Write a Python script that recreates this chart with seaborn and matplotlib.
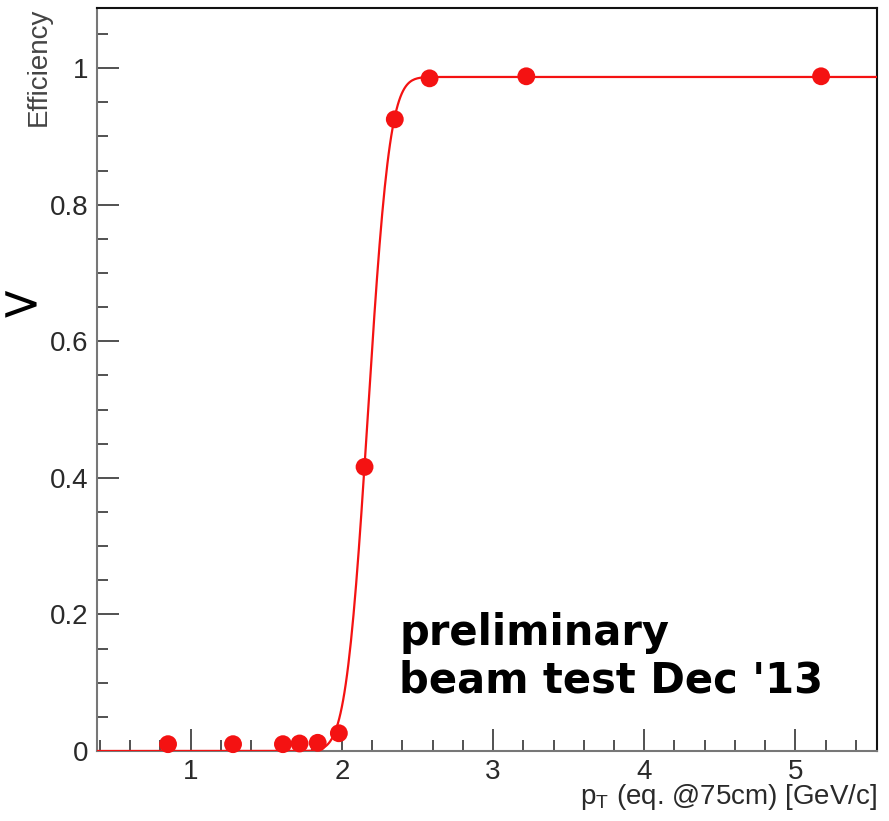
import numpy as np
import pandas as pd
import matplotlib
matplotlib.use("Agg")
import matplotlib.pyplot as plt
import seaborn as sns
from math import erf, sqrt
from matplotlib.ticker import MultipleLocator, FixedLocator

# ---- data ----
pt_values = [0.85, 1.28, 1.61, 1.72, 1.84, 1.98, 2.15, 2.35, 2.58, 3.22, 5.17]
eff_values = [0.010, 0.010, 0.010, 0.011, 0.012, 0.026, 0.416, 0.925, 0.985, 0.988, 0.988]

# fit parameters of the turn-on curve (erf)
fit_plateau = 0.987
fit_mu = 2.172
fit_sigma = 0.114
fit_range = [0.38, 5.54]

x_ticks = [1, 2, 3, 4, 5]
y_ticks = [0, 0.2, 0.4, 0.6, 0.8, 1]
y_ticklabels = ["0", "0.2", "0.4", "0.6", "0.8", "1"]

sns.set_theme(style="ticks")
plt.rcParams["font.family"] = ["Liberation Sans", "DejaVu Sans"]
plt.rcParams["mathtext.fontset"] = "custom"
plt.rcParams["mathtext.rm"] = "Liberation Sans"

fig = plt.figure(figsize=(8.89, 8.21), dpi=100)
ax = fig.add_axes([97 / 889, 1 - 751 / 821, (877 - 97) / 889, (751 - 8) / 821])

red = "#f41212"

xf = np.linspace(fit_range[0], fit_range[1], 600)
yf = [fit_plateau * 0.5 * (1 + erf((v - fit_mu) / (sqrt(2) * fit_sigma))) for v in xf]
curve = pd.DataFrame({"pt": xf, "eff": yf})
pts = pd.DataFrame({"pt": pt_values, "eff": eff_values})

sns.lineplot(data=curve, x="pt", y="eff", ax=ax, color=red, linewidth=1.6, zorder=3)
sns.scatterplot(data=pts, x="pt", y="eff", ax=ax, color=red, s=165,
                edgecolor="none", zorder=4, clip_on=False)

ax.set_xlim(fit_range[0], fit_range[1])
ax.set_ylim(0, 1.088)

ax.xaxis.set_major_locator(FixedLocator(x_ticks))
ax.xaxis.set_minor_locator(MultipleLocator(0.2))
ax.yaxis.set_major_locator(FixedLocator(y_ticks))
ax.set_yticklabels(y_ticklabels)
ax.yaxis.set_minor_locator(MultipleLocator(0.05))

ax.tick_params(axis="both", which="major", direction="in", length=15.5, width=1.2,
               color="#333333", labelsize=20, labelcolor="#2a2a2a")
ax.tick_params(axis="both", which="minor", direction="in", length=8, width=1.2,
               color="#333333")
ax.tick_params(axis="x", which="major", pad=5.5)
ax.tick_params(axis="y", which="major", pad=6)

for side in ["top", "right"]:
    ax.spines[side].set_visible(True)
    ax.spines[side].set_color("#111111")
    ax.spines[side].set_linewidth(1.5)
for side in ["left", "bottom"]:
    ax.spines[side].set_color("#777777")
    ax.spines[side].set_linewidth(1.5)

ax.set_xlabel(r"p$_{\mathrm{T}}$ (eq. @75cm) [GeV/c]", loc="right", fontsize=20,
              color="#2a2a2a", labelpad=-2)
ax.set_ylabel("Efficiency", loc="top", fontsize=20, color="#444444", labelpad=-1)

ax.text(2.38, 0.155, "preliminary", fontsize=30, fontweight="bold",
        family="DejaVu Sans", color="black", ha="left", va="baseline")
ax.text(2.38, 0.085, "beam test Dec '13", fontsize=30, fontweight="bold",
        family="DejaVu Sans", color="black", ha="left", va="baseline")

fig.text(0.0, 1 - 305 / 821, ">", fontsize=36, color="black", ha="left",
         va="center", rotation=0, family="DejaVu Sans")

fig.savefig("out.png", dpi=100)
